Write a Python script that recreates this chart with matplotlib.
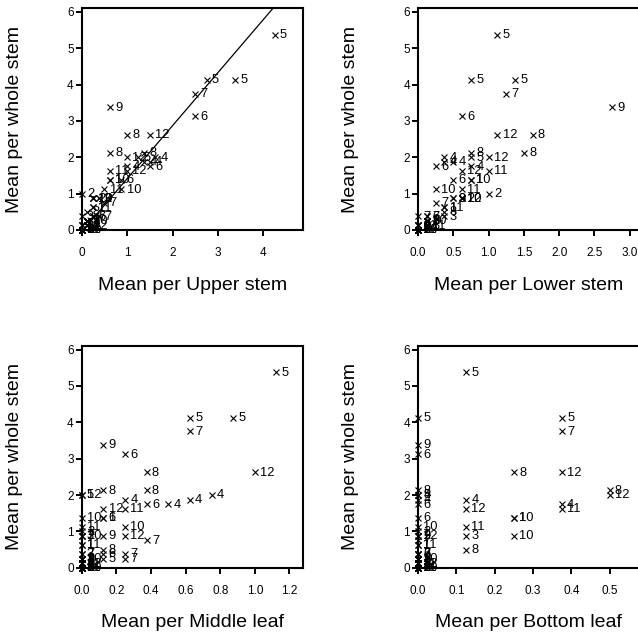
import matplotlib
matplotlib.use("Agg")
import matplotlib.pyplot as plt
import numpy as np

plt.rcParams["font.family"] = ["Liberation Sans", "DejaVu Sans"]

# Month label of each sample
month = [1, 1, 1, 1, 1,
         2, 2, 2, 2, 2,
         3, 3, 3, 3, 3,
         4, 4, 4, 4, 4,
         5, 5, 5, 5, 5,
         6, 6, 6, 6, 6,
         7, 7, 7, 7, 7,
         8, 8, 8, 8, 8,
         9, 9, 9, 9, 9,
         10, 10, 10, 10, 10,
         11, 11, 11, 11, 11,
         12, 12, 12, 12, 12]

whole_stem = [1.375, 0.625, 0.25, 0.125, 0.0,
              1.0, 0.875, 0.25, 0.125, 0.0,
              0.875, 0.375, 0.25, 0.125, 0.0,
              2.0, 1.875, 1.875, 1.75, 0.125,
              5.375, 4.125, 4.125, 2.0, 0.25,
              3.125, 1.75, 1.375, 0.375, 0.0,
              3.75, 0.75, 0.375, 0.25, 0.375,
              2.625, 2.125, 2.125, 0.5, 0.0,
              3.375, 0.875, 0.25, 0.125, 0.0,
              1.375, 1.125, 0.875, 0.25, 0.0,
              1.625, 1.125, 0.625, 0.125, 0.0,
              2.625, 2.0, 1.625, 0.875, 0.125]

upper_stem = [0.625, 0.25, 0.125, 0.0, 0.0,
              0.0, 0.25, 0.125, 0.125, 0.0,
              0.375, 0.0, 0.125, 0.0, 0.0,
              1.625, 1.375, 1.5, 1.0, 0.125,
              4.25, 3.375, 2.75, 1.25, 0.125,
              2.5, 1.5, 0.875, 0.25, 0.0,
              2.5, 0.5, 0.25, 0.125, 0.375,
              1.0, 0.625, 1.375, 0.125, 0.0,
              0.625, 0.375, 0.125, 0.125, 0.0,
              0.625, 0.875, 0.25, 0.125, 0.0,
              0.625, 0.5, 0.25, 0.0, 0.0,
              1.5, 1.0, 1.0, 0.25, 0.125]

lower_stem = [0.75, 0.375, 0.125, 0.125, 0.0,
              1.0, 0.625, 0.125, 0.0, 0.0,
              0.5, 0.375, 0.125, 0.125, 0.0,
              0.375, 0.5, 0.375, 0.75, 0.0,
              1.125, 0.75, 1.375, 0.75, 0.125,
              0.625, 0.25, 0.5, 0.125, 0.0,
              1.25, 0.25, 0.125, 0.125, 0.0,
              1.625, 1.5, 0.75, 0.375, 0.0,
              2.75, 0.5, 0.125, 0.0, 0.0,
              0.75, 0.25, 0.625, 0.125, 0.0,
              1.0, 0.625, 0.375, 0.125, 0.0,
              1.125, 1.0, 0.625, 0.625, 0.0]

middle_leaf = [0.125, 0.0, 0.0, 0.0, 0.0,
               0.0, 0.0, 0.0, 0.0, 0.0,
               0.0, 0.0, 0.0, 0.0, 0.0,
               0.75, 0.625, 0.25, 0.5, 0.0,
               1.125, 0.875, 0.625, 0.0, 0.125,
               0.25, 0.375, 0.125, 0.125, 0.0,
               0.625, 0.375, 0.25, 0.25, 0.0,
               0.375, 0.375, 0.125, 0.125, 0.0,
               0.125, 0.125, 0.0, 0.0, 0.0,
               0.0, 0.25, 0.0, 0.0, 0.0,
               0.25, 0.0, 0.0, 0.0, 0.0,
               1.0, 0.0, 0.125, 0.25, 0.0]

bottom_leaf = [0.25, 0.0, 0.0, 0.0, 0.0,
               0.0, 0.0, 0.0, 0.0, 0.0,
               0.125, 0.0, 0.0, 0.0, 0.0,
               0.0, 0.125, 0.0, 0.375, 0.0,
               0.125, 0.0, 0.375, 0.0, 0.0,
               0.0, 0.0, 0.0, 0.0, 0.0,
               0.375, 0.0, 0.0, 0.0, 0.0,
               0.25, 0.5, 0.0, 0.125, 0.0,
               0.0, 0.0, 0.0, 0.0, 0.0,
               0.25, 0.0, 0.25, 0.0, 0.0,
               0.375, 0.125, 0.0, 0.0, 0.0,
               0.375, 0.5, 0.125, 0.0, 0.0]

# Fitted line of whole stem on upper stem
fit_slope = 1.46
fit_intercept = -0.05

panels = [
    ("Mean per Upper stem", upper_stem, 4.88, [0, 1, 2, 3, 4], "{:.0f}"),
    ("Mean per Lower stem", lower_stem, 3.14, [0, 0.5, 1.0, 1.5, 2.0, 2.5, 3.0], "{:.1f}"),
    ("Mean per Middle leaf", middle_leaf, 1.28, [0, 0.2, 0.4, 0.6, 0.8, 1.0, 1.2], "{:.1f}"),
    ("Mean per Bottom leaf", bottom_leaf, 0.578, [0, 0.1, 0.2, 0.3, 0.4, 0.5], "{:.1f}"),
]

W, H = 638, 635
fig = plt.figure(figsize=(W / 100, H / 100), dpi=100)

ax_w, ax_h = 221.6 / W, 221.7 / H
lefts = [81.7 / W, 418 / W]
bottoms = [(H - 230) / H, (H - 567.7) / H]
positions = [(lefts[0], bottoms[0]), (lefts[1], bottoms[0]),
             (lefts[0], bottoms[1]), (lefts[1], bottoms[1])]

for (xlabel, xvals, xmax, xticks, fmt), (l, b) in zip(panels, positions):
    ax = fig.add_axes([l, b, ax_w, ax_h])
    ax.set_xlim(0, xmax)
    ax.set_ylim(0, 6.1)
    for x, y, m in zip(xvals, whole_stem, month):
        ax.plot(x, y, marker="x", color="black", markersize=5,
                markeredgewidth=0.8, linestyle="none", clip_on=False, zorder=3)
        ax.annotate(str(m), (x, y), xytext=(3.8, -0.3), textcoords="offset points",
                    ha="left", va="center", fontsize=9.3, color="black",
                    annotation_clip=False, zorder=3)
    if xlabel == "Mean per Upper stem":
        xs = np.array([0.0, 4.5])
        ax.plot(xs, fit_intercept + fit_slope * xs, color="black", linewidth=0.9,
                zorder=2)
    ax.set_xticks(xticks)
    ax.set_xticklabels([fmt.format(t) for t in xticks])
    ax.set_yticks(range(7))
    ax.set_yticklabels([str(t) for t in range(7)])
    for s in ax.spines.values():
        s.set_linewidth(1.5)
    ax.tick_params(axis="both", direction="out", length=4.2, width=1.4,
                   labelsize=8.5, colors="black")
    ax.tick_params(axis="x", pad=8)
    ax.tick_params(axis="y", pad=1.5)
    ax.set_xlabel(xlabel, fontsize=14)
    ax.set_ylabel("Mean per whole stem", fontsize=14)
    ax.xaxis.set_label_coords(0.5, -0.21)
    ax.yaxis.set_label_coords(-0.265, 0.5)

fig.savefig("out.png", dpi=100)
